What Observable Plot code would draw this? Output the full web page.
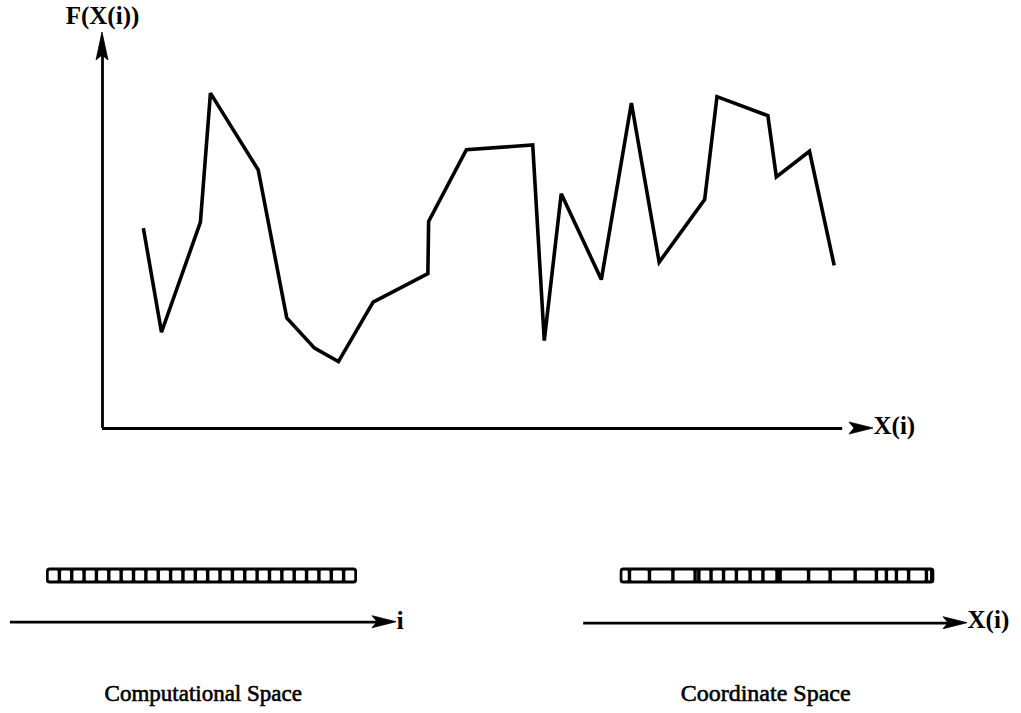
<!DOCTYPE html>
<html>
<head>
<meta charset="utf-8">
<script src="https://cdn.jsdelivr.net/npm/d3@7"></script>
<script src="https://cdn.jsdelivr.net/npm/@observablehq/plot@0.6"></script>
<style>
  html, body { margin: 0; padding: 0; background: #fff; }
  #wrap { position: relative; width: 1021px; height: 713px; overflow: hidden; background: #fff; }
  #wrap svg { position: absolute; background: transparent; }
</style>
</head>
<body>
<div id="wrap"></div>
<script>
// ---------- data ----------
// sampled function F at coordinate positions X(i) (arbitrary 0..100 units)
const curveX = [5.3, 7.65, 12.7, 14.0, 20.2, 23.9, 27.5, 30.6, 35.1, 42.2, 42.3, 47.2,
                55.8, 57.3, 59.5, 64.7, 68.6, 72.2, 78.1, 79.7, 86.3, 87.4, 91.7, 94.9];
const curveF = [50.6, 24.3, 52.1, 84.7, 65.3, 27.9, 20.3, 16.9, 31.9, 39.1, 52.3, 70.4,
                71.6, 22.2, 59.3, 37.6, 82.2, 42.0, 57.8, 83.8, 79.0, 63.5, 70.0, 41.2];
// computational space: uniform index grid i = 0..25
const compIndex = [0,1,2,3,4,5,6,7,8,9,10,11,12,13,14,15,16,17,18,19,20,21,22,23,24,25];
// coordinate space: non-uniform cell boundaries X(i) (0..100 units)
const coordBounds = [0, 2.8, 9.2, 16.7, 23.8, 25.0, 28.9, 32.9, 37.0, 41.4, 45.5, 50.0, 51.0,
                     60.1, 67.0, 75.0, 81.8, 85.0, 88.2, 92.1, 97.8, 99.5, 100];
const axisLabels = { fy: "F(X(i))", fx: "X(i)", ci: "i", cx: "X(i)" };
const spaceLabels = ["Computational Space", "Coordinate Space"];

// ---------- helpers ----------
const FONT = "'Liberation Serif', 'Times New Roman', serif";
const wrap = document.getElementById("wrap");

function place(svg, left, top) {
  svg.style.left = left + "px";
  svg.style.top = top + "px";
  wrap.appendChild(svg);
}
// filled barbed arrowhead drawn through the plot's scales
function headRight(xv, yv, L = 24, W = 6, N = 5) {
  return (index, scales) => {
    const tx = scales.x(xv), ty = scales.y(yv);
    return d3.create("svg:path")
      .attr("d", `M${tx},${ty}L${tx - L},${ty - W}L${tx - L + N},${ty}L${tx - L},${ty + W}Z`)
      .attr("fill", "black").attr("stroke", "black").attr("stroke-width", 0.8)
      .node();
  };
}
function headUp(xv, yv, L = 28, W = 6, N = 5) {
  return (index, scales) => {
    const tx = scales.x(xv), ty = scales.y(yv);
    return d3.create("svg:path")
      .attr("d", `M${tx},${ty}L${tx - W},${ty + L}L${tx},${ty + L - N}L${tx + W},${ty + L}Z`)
      .attr("fill", "black").attr("stroke", "black").attr("stroke-width", 0.8)
      .node();
  };
}

// ---------- top: F(X(i)) ----------
const curve = curveX.map((x, k) => ({ x, f: curveF[k] }));
const topPlot = Plot.plot({
  width: 1021, height: 470,
  marginLeft: 102, marginRight: 148, marginTop: 32, marginBottom: 42,
  style: { fontFamily: FONT, background: "transparent" },
  x: { domain: [0, 100], axis: null },
  y: { domain: [0, 100], axis: null },
  marks: [
    Plot.ruleY([0], { x1: 0, x2: 96, stroke: "black", strokeWidth: 2.8 }),
    Plot.ruleX([0], { y1: 0, y2: 95, stroke: "black", strokeWidth: 2.8 }),
    headRight(100, 0, 24, 6, 5),
    headUp(0, 100, 28, 6, 5),
    Plot.line(curve, { x: "x", y: "f", stroke: "black", strokeWidth: 3.6,
                       strokeLinejoin: "miter", strokeMiterlimit: 3, strokeLinecap: "butt" }),
    Plot.text([axisLabels.fy], { x: 0, y: 100, text: d => d, textAnchor: "middle",
                                 lineAnchor: "bottom", dy: -9, fontSize: 25, fontWeight: "bold", fill: "black" }),
    Plot.text([axisLabels.fx], { x: 100, y: 0, text: d => d, textAnchor: "start",
                                 lineAnchor: "middle", dx: 0, dy: -3, fontSize: 25, fontWeight: "bold", fill: "black" })
  ]
});
place(topPlot, 0, 0);

// ---------- bottom left: computational space ----------
const compCells = compIndex.slice(0, -1).map((a, k) => ({ a, b: compIndex[k + 1] }));
const compPlot = Plot.plot({
  width: 510, height: 173, margin: 0,
  style: { fontFamily: FONT, background: "transparent" },
  x: { domain: [0, 25], range: [47, 356], axis: null },
  y: { domain: [0, 173], range: [0, 173], axis: null },
  marks: [
    Plot.rect([0], { x1: 0, x2: 25, y1: 27.5, y2: 43.5, fill: "black", rx: 3.5, insetLeft: -1, insetRight: -1 }),
    Plot.rect(compCells, { x1: "a", x2: "b", y1: 27.5, y2: 43.5, fill: "white",
                           insetLeft: 1.7, insetRight: 1.7, insetTop: 3, insetBottom: 3, rx: 1.2 }),
    Plot.ruleY([81.7], { x1: -3, x2: 27, stroke: "black", strokeWidth: 2.8 }),
    headRight(28.24, 81.7, 24, 6, 5),
    Plot.text([axisLabels.ci], { x: 28.24, y: 81.7, text: d => d, textAnchor: "start",
                                 lineAnchor: "middle", dx: 0, dy: -2, fontSize: 26, fontWeight: "bold", fill: "black" }),
    Plot.text([spaceLabels[0]], { x: 12.6, y: 160, text: d => d, textAnchor: "middle",
                                  lineAnchor: "bottom", fontSize: 23, fill: "black",
                                  stroke: "black", strokeWidth: 0.6 })
  ]
});
place(compPlot, 0, 540);

// ---------- bottom right: coordinate space ----------
const coordCells = coordBounds.slice(0, -1).map((a, k) => ({ a, b: coordBounds[k + 1] }));
const coordPlot = Plot.plot({
  width: 511, height: 173, margin: 0,
  style: { fontFamily: FONT, background: "transparent" },
  x: { domain: [0, 100], range: [110.7, 423.3], axis: null },
  y: { domain: [0, 173], range: [0, 173], axis: null },
  marks: [
    Plot.rect([0], { x1: 0, x2: 100, y1: 27.5, y2: 43.5, fill: "black", rx: 3.5, insetLeft: -1, insetRight: -1 }),
    Plot.rect(coordCells, { x1: "a", x2: "b", y1: 27.5, y2: 43.5, fill: "white",
                            insetLeft: 1.7, insetRight: 1.7, insetTop: 3, insetBottom: 3, rx: 1.2 }),
    Plot.ruleY([82.7], { x1: -12, x2: 105, stroke: "black", strokeWidth: 2.8 }),
    headRight(110.8, 82.7, 24, 6, 5),
    Plot.text([axisLabels.cx], { x: 110.8, y: 82.7, text: d => d, textAnchor: "start",
                                 lineAnchor: "middle", dx: 0, dy: -3, fontSize: 25, fontWeight: "bold", fill: "black" }),
    Plot.text([spaceLabels[1]], { x: 46.2, y: 160, text: d => d, textAnchor: "middle",
                                  lineAnchor: "bottom", fontSize: 24, fill: "black",
                                  stroke: "black", strokeWidth: 0.6 })
  ]
});
place(coordPlot, 510, 540);
</script>
</body>
</html>
